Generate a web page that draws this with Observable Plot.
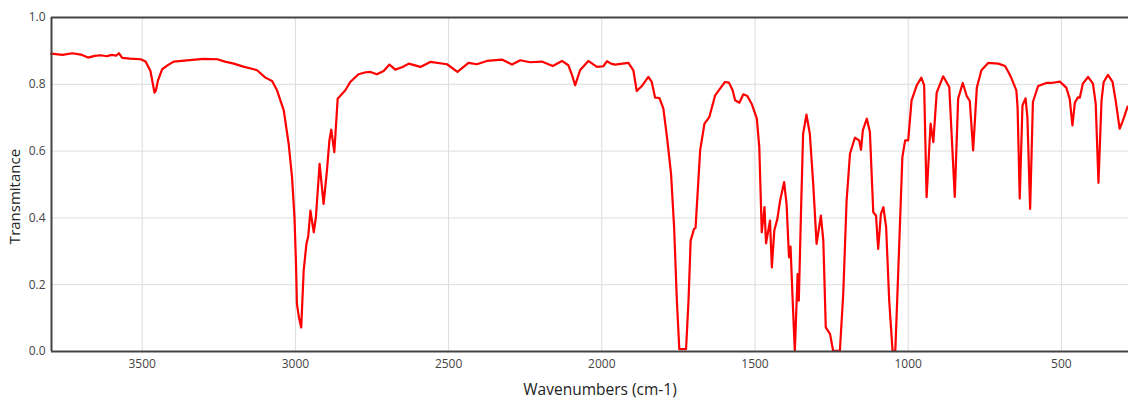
<!DOCTYPE html>
<html>
<head>
<meta charset="utf-8">
<script src="https://cdn.jsdelivr.net/npm/d3@7"></script>
<script src="https://cdn.jsdelivr.net/npm/@observablehq/plot@0.6"></script>
<style>
  html, body { margin: 0; padding: 0; background: #fff; }
  #chart svg { display: block; }
</style>
</head>
<body>
<div id="chart"></div>
<script>
const wavenumbers = [3797,3760,3728,3700,3677,3655,3636,3615,3600,3585,3576,3565,3540,3505,3489,3473,3465,3460,3455,3449,3435,3415,3397,3370,3337,3300,3255,3230,3201,3170,3136,3125,3098,3076,3060,3038,3022,3011,3003,2998,2995,2988,2981,2973,2964,2958,2951,2940,2933,2921,2908,2897,2889,2883,2873,2862,2837,2821,2794,2770,2755,2734,2712,2693,2674,2650,2630,2592,2560,2505,2471,2435,2408,2375,2326,2293,2266,2234,2196,2160,2130,2109,2098,2087,2071,2044,2016,1995,1983,1970,1957,1913,1897,1886,1870,1848,1837,1826,1812,1799,1786,1774,1764,1755,1747,1725,1717,1710,1699,1694,1679,1665,1649,1630,1614,1598,1585,1573,1565,1551,1538,1525,1511,1494,1486,1478,1469,1464,1451,1445,1437,1427,1418,1405,1397,1389,1384,1377,1370,1364,1361,1357,1350,1343,1332,1321,1310,1299,1285,1277,1269,1255,1245,1223,1212,1201,1190,1174,1160,1154,1148,1135,1125,1114,1105,1098,1089,1081,1072,1062,1051,1042,1032,1019,1010,1000,989,972,957,948,940,927,918,907,886,866,848,837,822,809,799,788,776,761,739,706,684,673,665,656,647,643,636,627,617,611,602,593,576,549,533,505,484,473,464,456,446,440,430,413,397,388,379,369,362,348,333,323,310,299,284,280];
const transmittance = [0.892,0.888,0.893,0.889,0.880,0.885,0.887,0.884,0.888,0.886,0.893,0.879,0.877,0.875,0.868,0.840,0.800,0.775,0.782,0.810,0.845,0.858,0.868,0.870,0.873,0.876,0.875,0.868,0.862,0.853,0.845,0.842,0.820,0.810,0.782,0.722,0.622,0.522,0.402,0.262,0.142,0.100,0.072,0.242,0.322,0.345,0.422,0.357,0.402,0.562,0.442,0.542,0.632,0.664,0.597,0.757,0.782,0.807,0.830,0.836,0.837,0.830,0.840,0.859,0.844,0.852,0.862,0.852,0.867,0.860,0.837,0.864,0.860,0.870,0.874,0.859,0.872,0.866,0.868,0.855,0.870,0.857,0.830,0.797,0.842,0.870,0.852,0.854,0.869,0.862,0.859,0.864,0.842,0.780,0.794,0.822,0.807,0.760,0.759,0.727,0.632,0.532,0.372,0.152,0.007,0.007,0.152,0.332,0.367,0.370,0.602,0.682,0.702,0.767,0.787,0.807,0.805,0.782,0.752,0.745,0.770,0.765,0.742,0.697,0.612,0.357,0.432,0.324,0.392,0.252,0.362,0.397,0.452,0.507,0.442,0.282,0.314,0.152,0.002,0.152,0.232,0.152,0.412,0.652,0.709,0.652,0.502,0.322,0.407,0.332,0.072,0.052,0.002,0.002,0.172,0.452,0.592,0.640,0.632,0.604,0.662,0.697,0.657,0.417,0.407,0.307,0.412,0.432,0.372,0.152,0.002,0.002,0.252,0.582,0.632,0.632,0.752,0.797,0.820,0.797,0.462,0.682,0.627,0.775,0.824,0.792,0.463,0.757,0.804,0.765,0.750,0.602,0.790,0.842,0.864,0.862,0.855,0.837,0.822,0.802,0.782,0.730,0.458,0.737,0.758,0.702,0.427,0.747,0.795,0.804,0.804,0.808,0.790,0.757,0.677,0.745,0.761,0.760,0.802,0.822,0.802,0.742,0.505,0.752,0.807,0.828,0.807,0.752,0.667,0.692,0.733,0.735];
const xTicks = [3500, 3000, 2500, 2000, 1500, 1000, 500];
const yTicks = [0, 0.2, 0.4, 0.6, 0.8, 1.0];
const xTitle = "Wavenumbers (cm-1)";
const yTitle = "Transmitance";

const data = wavenumbers.map((w, i) => ({w, t: transmittance[i]}));
const xDomain = [3796, 281];

const chart = Plot.plot({
  width: 1128,
  height: 399,
  marginLeft: 51,
  marginRight: 0,
  marginTop: 17,
  marginBottom: 48,
  style: {fontFamily: "'Open Sans', sans-serif", fontSize: "12px", color: "#444", background: "#fff"},
  x: {domain: xDomain, label: null},
  y: {domain: [0, 1], label: null},
  marks: [
    Plot.gridX(xTicks, {stroke: "#ddd", strokeOpacity: 1, strokeWidth: 1}),
    Plot.gridY(yTicks, {stroke: "#ddd", strokeOpacity: 1, strokeWidth: 1}),
    Plot.axisX(xTicks, {tickSize: 0, tickPadding: 8, tickFormat: d3.format("d"), label: null, fill: "#444"}),
    Plot.axisY(yTicks, {tickSize: 0, tickPadding: 6, tickFormat: d3.format(".1f"), label: null, fill: "#444"}),
    Plot.text([xTitle], {frameAnchor: "bottom", textAnchor: "middle", lineAnchor: "middle", dy: 39, dx: 10, fontSize: 15.5, fill: "#222"}),
    Plot.text([yTitle], {frameAnchor: "left", textAnchor: "middle", lineAnchor: "middle", rotate: -90, dx: -36, dy: 12, fontSize: 15, fill: "#222"}),
    Plot.line(data, {x: "w", y: "t", stroke: "#ff0000", strokeWidth: 2.2, curve: "linear"}),
    Plot.ruleY([0, 1], {stroke: "#444", strokeWidth: 2}),
    Plot.ruleX([xDomain[0]], {stroke: "#444", strokeWidth: 2})
  ]
});
document.getElementById("chart").appendChild(chart);
</script>
</body>
</html>
